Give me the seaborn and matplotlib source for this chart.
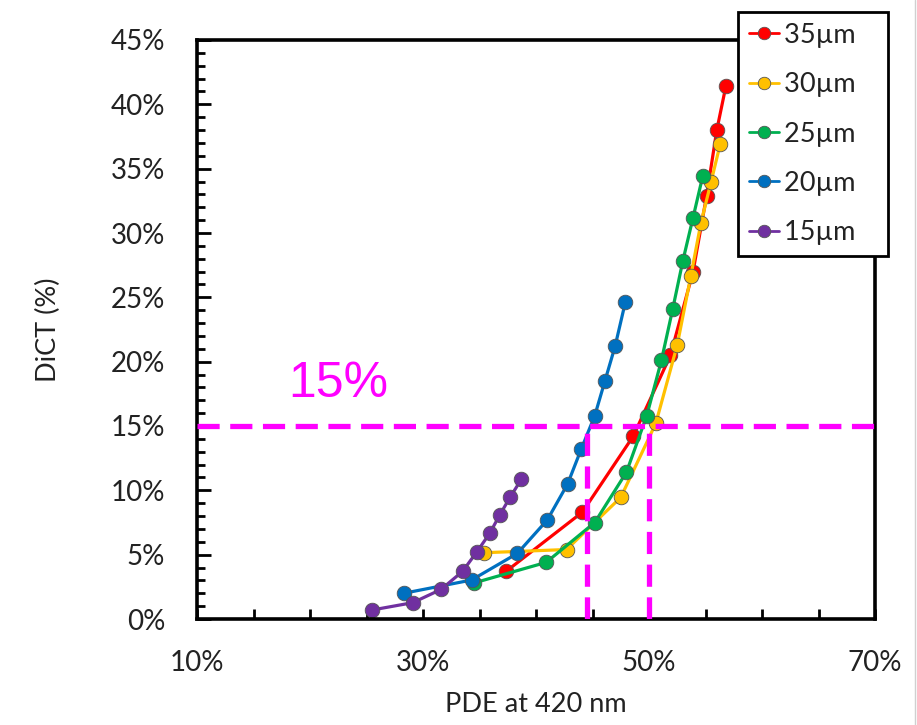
import numpy as np
import pandas as pd
import matplotlib
matplotlib.use("Agg")
import matplotlib.pyplot as plt
import seaborn as sns
from matplotlib.ticker import MultipleLocator, FixedLocator, FuncFormatter
from matplotlib.lines import Line2D

# Data (PDE %, DiCT %)
pde_35 = [37.35, 44.1, 48.6, 51.9, 53.9, 55.1, 56.0, 56.8]
dict_35 = [3.7, 8.3, 14.2, 20.5, 27.0, 32.9, 38.0, 41.4]

pde_30 = [35.4, 42.7, 47.5, 50.6, 52.5, 53.7, 54.6, 55.5, 56.3]
dict_30 = [5.15, 5.4, 9.45, 15.2, 21.3, 26.65, 30.8, 34.0, 36.9]

pde_25 = [34.5, 40.9, 45.2, 48.0, 49.8, 51.1, 52.1, 53.0, 53.9, 54.75]
dict_25 = [2.8, 4.4, 7.5, 11.4, 15.8, 20.1, 24.1, 27.85, 31.2, 34.4]

pde_20 = [28.3, 34.3, 38.35, 41.0, 42.8, 44.0, 45.2, 46.1, 47.0, 47.9]
dict_20 = [2.0, 3.03, 5.1, 7.7, 10.5, 13.2, 15.8, 18.5, 21.2, 24.6]

pde_15 = [25.5, 29.1, 31.6, 33.5, 34.75, 35.9, 36.8, 37.7, 38.7]
dict_15 = [0.7, 1.27, 2.3, 3.7, 5.2, 6.65, 8.1, 9.45, 10.85]

labels = ["35µm", "30µm", "25µm", "20µm", "15µm"]
colors = ["#FF0000", "#FFC000", "#00B050", "#0070C0", "#7030A0"]

# threshold guide
threshold = 15
pde_at_threshold = [44.5, 50.0]

frames = []
for lab, xs, ys in zip(labels,
                       [pde_35, pde_30, pde_25, pde_20, pde_15],
                       [dict_35, dict_30, dict_25, dict_20, dict_15]):
    frames.append(pd.DataFrame({"pde": xs, "dict": ys, "size": lab}))
df = pd.concat(frames, ignore_index=True)

sns.set_style("white")
plt.rcParams["font.family"] = ["Lato", "DejaVu Sans"]

fig = plt.figure(figsize=(9.17, 7.25), dpi=100)
ax = fig.add_axes([197 / 917, 1 - 619 / 725, (875 - 197) / 917, (619 - 40) / 725])

# draw series one by one so later ones sit on top
for lab, col in zip(labels, colors):
    sub = df[df["size"] == lab]
    sns.lineplot(data=sub, x="pde", y="dict", ax=ax, color=col, sort=False,
                 estimator=None, marker="o", markersize=10.5, linewidth=2.3,
                 markeredgecolor="#555555", markeredgewidth=0.6, legend=False)

# magenta dashed guide lines
dash_kw = dict(color="#FF00FF", linewidth=3.8, dashes=(4.2, 2.0), zorder=5)
ax.plot([10, 70], [threshold, threshold], **dash_kw)
for xv in pde_at_threshold:
    ax.plot([xv, xv], [0, threshold], **dash_kw)
ax.text(22.5, 18.3, "15%", color="#FF00FF", fontsize=36,
        family="Liberation Sans", ha="center", va="center")

ax.set_xlim(10, 70)
ax.set_ylim(0, 45)
ax.xaxis.set_major_locator(FixedLocator([10, 30, 50, 70]))
ax.xaxis.set_minor_locator(MultipleLocator(5))
ax.yaxis.set_major_locator(MultipleLocator(5))
ax.yaxis.set_minor_locator(MultipleLocator(1))
pct = FuncFormatter(lambda v, p: f"{v:.0f}%")
ax.xaxis.set_major_formatter(pct)
ax.yaxis.set_major_formatter(pct)

ax.tick_params(axis="x", which="both", direction="in", length=7, width=2,
               color="black", labelsize=20, pad=22, labelcolor="#222222")
ax.tick_params(axis="y", which="major", direction="in", length=10, width=2,
               color="black", labelsize=20, pad=23, labelcolor="#222222")
ax.tick_params(axis="y", which="minor", direction="in", length=6, width=2,
               color="black")
ax.tick_params(left=True, bottom=True, which="both")

for s in ax.spines.values():
    s.set_color("black")
    s.set_linewidth(2.6)

ax.set_xlabel("PDE at 420 nm", fontsize=19.5, color="#222222", labelpad=12)
ax.set_ylabel("DiCT (%)", fontsize=19.5, color="#222222", labelpad=36)

handles = [Line2D([0], [0], color=c, marker="o", markersize=9, linewidth=2,
                  markeredgecolor="#555555", markeredgewidth=0.6) for c in colors]
# trailing spaces widen the box on the right like the original
leg = fig.legend(handles, [l + "   " for l in labels], loc="upper left",
                 bbox_to_anchor=(738 / 917, 1 - 12 / 725), frameon=True,
                 fancybox=False, framealpha=1, fontsize=19.5, handlelength=1.1,
                 handletextpad=0.2, labelspacing=0.9, borderpad=0.4,
                 borderaxespad=0)
leg.get_frame().set_edgecolor("black")
leg.get_frame().set_linewidth(2)
leg.get_frame().set_facecolor("white")
for t in leg.get_texts():
    t.set_color("#222222")

# light border at the right edge of the image
fig.add_artist(Line2D([915 / 917, 915 / 917], [0, 1], color="#d0d0d0", linewidth=1))

fig.savefig("out.png", dpi=100)
